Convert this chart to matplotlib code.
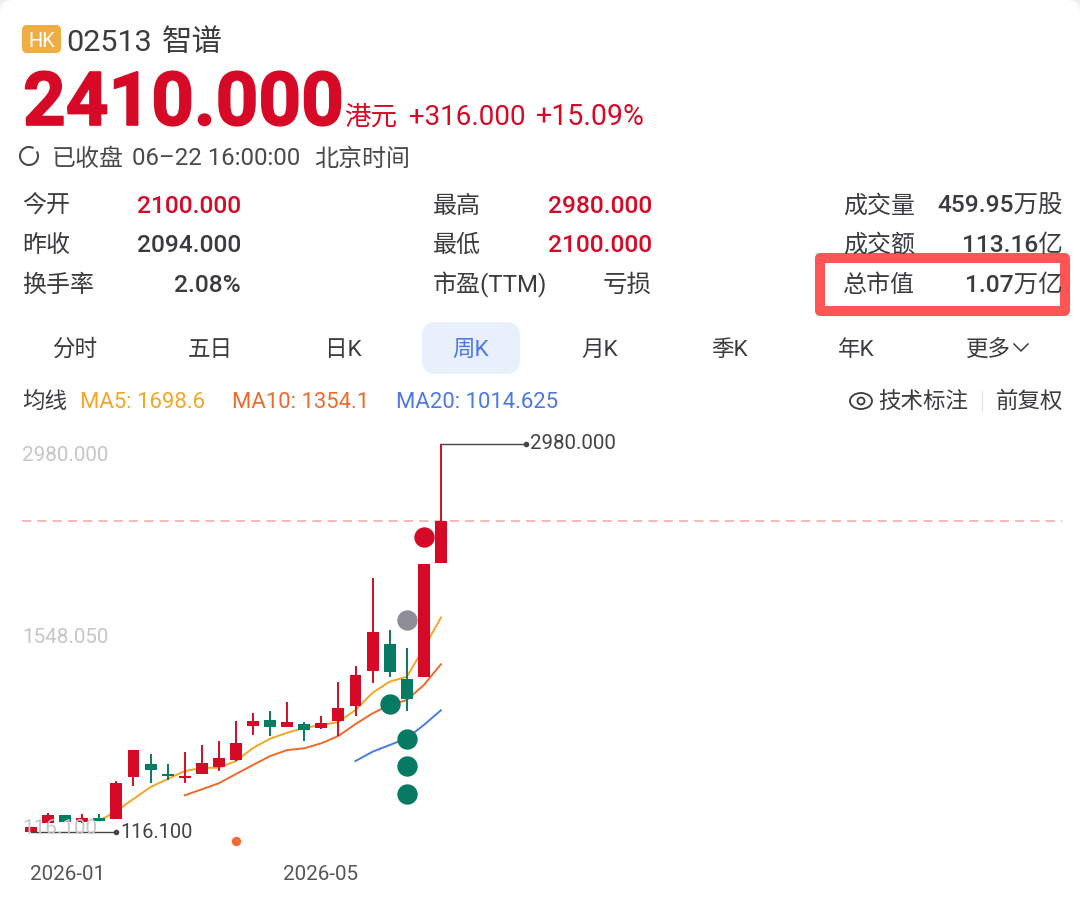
import numpy as np
import matplotlib
matplotlib.use('Agg')
import matplotlib.pyplot as plt
import matplotlib.patheffects as pe
from matplotlib.patches import FancyBboxPatch, Rectangle, Ellipse, Circle, Arc

plt.rcParams['font.family'] = ['Roboto', 'Noto Sans CJK SC']

# weekly candles
opens = [116, 180, 239, 192, 222, 212, 522, 620, 544, 513, 544, 598, 648,
         896, 941, 893, 911, 882, 933, 1048, 1307, 1506, 1245, 1262, 2100]
closes = [153, 244, 192, 222, 200, 480, 721, 574, 530, 527, 625, 662, 775,
          933, 891, 930, 869, 918, 1034, 1277, 1590, 1297, 1098, 2094, 2410]
highs = [153, 259, 244, 247, 247, 493, 723, 694, 620, 707, 761, 786, 935,
         997, 1007, 1076, 930, 972, 1226, 1339, 1991, 1607, 1476, 2094, 2980]
lows = [116, 175, 190, 180, 197, 212, 458, 480, 498, 480, 542, 569, 640,
        834, 825, 893, 786, 880, 825, 975, 1214, 1258, 1009, 1262, 2100]

ma5 = [200, 270, 360, 448, 507, 566, 589, 591, 640, 736, 805, 849, 884, 906,
       928, 1017, 1144, 1226, 1262, 1474, 1698.6]
ma10 = [387, 431, 476, 544, 611, 677, 721, 734, 771, 825, 913, 992, 1054,
        1090, 1201, 1354.1]
ma20 = [640, 709, 758, 808, 906, 1014.625]

dot_idx = [23, 22, 21, 22, 22, 22, 12]
dot_price = [2294, 1681, 1061, 806, 603, 400, 50]
dot_kind = ['red', 'grey', 'green', 'green', 'green', 'green', 'orange']

price_labels = ['2980.000', '1548.050', '116.100']
date_labels = ['2026-01', '2026-05']
tab_labels = ['分时', '五日', '日K', '周K', '月K', '季K', '年K', '更多']
rows_left = [('今开', '2100.000', True), ('昨收', '2094.000', False), ('换手率', '2.08%', False)]
rows_mid = [('最高', '2980.000', True), ('最低', '2100.000', True), ('市盈(TTM)', '亏损', False)]
rows_right = [('成交量', '459.95万股', False), ('成交额', '113.16亿', False), ('总市值', '1.07万亿', False)]

RED = '#d60a26'
GREEN = '#067a62'
DARK = '#3c3c40'
GREY = '#c6c6c8'
BLUE = '#4d78e6'
YELLOW = '#f5a623'
ORANGE = '#ee6a2c'
dot_colors = {'red': RED, 'grey': '#8e8e98', 'green': GREEN, 'orange': '#f26a35'}

fig = plt.figure(figsize=(10.8, 9.07), dpi=100, facecolor='#f2f2f4')

# white card with rounded top corners behind everything
bg = fig.add_axes([0, 0, 1, 1], zorder=-1)
bg.set_xlim(0, 1080)
bg.set_ylim(907, 0)
bg.axis('off')
bg.add_patch(FancyBboxPatch((12, 12), 1056, 950, boxstyle='round,pad=12,rounding_size=14',
                            fc='white', ec='none', clip_on=False))

# price chart: one candle every 17.08 px, 7.381 price units per px
ax = fig.add_axes([0, 0, 1, 1])
ax.set_xlim(-31 / 17.08, (1080 - 31) / 17.08)
ax.set_ylim(2980 - (907 - 444) * 7.381, 2980 + 444 * 7.381)
ax.axis('off')

idx = np.arange(len(opens))
opens = np.array(opens)
closes = np.array(closes)
up = closes >= opens
colors = [RED if u else GREEN for u in up]

ax.axhline(closes[-1], xmin=22 / 1080, xmax=1062 / 1080, color='#f4a6a6', lw=1.1,
           dashes=(6, 4), zorder=1)
ax.plot(idx[4:], ma5, color=YELLOW, lw=1.4, zorder=2)
ax.plot(idx[9:], ma10, color=ORANGE, lw=1.4, zorder=2)
ax.plot(idx[19:], ma20, color=BLUE, lw=1.4, zorder=2)

ax.vlines(idx, lows, highs, colors=colors, lw=1.4, zorder=3)
ax.bar(idx, np.abs(closes - opens), bottom=np.minimum(opens, closes), width=0.7,
       color=colors, zorder=3)

for i, p, k in zip(dot_idx, dot_price, dot_kind):
    ax.scatter(i, p, s=45 if k == 'orange' else 215, color=dot_colors[k], lw=0, zorder=4,
               clip_on=False)

# high / low leaders
ax.plot([idx[-1], idx[-1] + 5], [highs[-1], highs[-1]], color='#444444', lw=1, zorder=5)
ax.scatter(idx[-1] + 5, highs[-1], s=9, color='#444444', zorder=5)
ax.plot([idx[0], idx[0] + 5], [lows[0], lows[0]], color='#444444', lw=1, zorder=5)
ax.scatter(idx[0] + 5, lows[0], s=9, color='#444444', zorder=5)

# everything else is placed in screen pixels
ui = fig.add_axes([0, 0, 1, 1], zorder=5)
ui.set_xlim(0, 1080)
ui.set_ylim(907, 0)
ui.axis('off')
ui.patch.set_alpha(0)


def txt(x, y, s, px, color=DARK, ha='left', **kw):
    return ui.text(x, y, s, fontsize=px * 0.72, color=color, ha=ha, va='baseline', **kw)


# header
ui.add_patch(FancyBboxPatch((25, 28), 33, 22, boxstyle='round,pad=3,rounding_size=5',
                            fc='#f0ac45', ec='none'))
txt(41.5, 47, 'HK', 20, color='white', ha='center')
txt(66, 51, '02513', 30.5)
txt(162, 51, '智谱', 30.5)
big = txt(23, 125, '2410.000', 74.5, color=RED, fontweight='bold')
big.set_path_effects([pe.withStroke(linewidth=1.2, foreground=RED)])
txt(344, 125, '港元', 26.5, color=RED)
txt(409, 125, '+316.000', 27.8, color=RED)
txt(536, 125, '+15.09%', 28.5, color=RED)
ui.add_patch(Arc((29, 156), 18, 18, angle=0, theta1=-30, theta2=300, color='#4a4a4e', lw=1.5))
txt(52, 166, '已收盘', 24, color='#4a4a4e')
txt(132, 165, '06–22 16:00:00', 24, color='#4a4a4e')
txt(314, 166, '北京时间', 24, color='#4a4a4e')

# quote table
row_y = [213, 252, 292]
for rows, x0, x1 in [(rows_left, 22, 241), (rows_mid, 433, 652), (rows_right, 843, 1063)]:
    for (name, val, is_red), y in zip(rows, row_y):
        txt(x0, y, name, 24)
        txt(x1, y, val, 24.5, color=RED if is_red else DARK, ha='right', fontweight='medium')

# highlight box
ui.add_patch(Rectangle((820, 258), 245, 53, fill=False, ec='#ff5555', lw=7.2, joinstyle='round'))

# tabs
ui.add_patch(FancyBboxPatch((434, 334), 74, 28, boxstyle='round,pad=12,rounding_size=14',
                            fc='#e8f1fb', ec='none'))
for s, x in zip(tab_labels, [75, 210, 343, 471, 600, 729, 856, 988]):
    txt(x, 356, s, 22.5, color=BLUE if s == '周K' else DARK, ha='center')
ui.plot([1014, 1021, 1028], [344, 351, 344], color=DARK, lw=1.1)

# moving average legend
txt(22, 408, '均线', 22.5)
txt(80, 408, 'MA5: 1698.6', 22.2, color=YELLOW)
txt(232, 408, 'MA10: 1354.1', 22.2, color=ORANGE)
txt(396, 408, 'MA20: 1014.625', 22.2, color=BLUE)
ui.add_patch(Ellipse((861, 401), 22, 16, fill=False, ec=DARK, lw=1.3))
ui.add_patch(Circle((861, 401), 3.5, fill=False, ec=DARK, lw=1.3))
txt(878, 408, '技术标注', 22.5)
ui.plot([982, 982], [391, 411], color='#e6e6e6', lw=1)
txt(996, 408, '前复权', 22.5)

# axis labels
txt(22, 461, price_labels[0], 20.6, color=GREY)
txt(22, 643, price_labels[1], 20.6, color=GREY)
txt(22, 834, price_labels[2], 20.6, color=GREY)
txt(530, 449, price_labels[0], 20.5, color='#444444')
txt(120, 838, price_labels[2], 20, color='#444444')
txt(30, 880, date_labels[0], 20.6, color='#555555')
txt(283, 880, date_labels[1], 20.6, color='#555555')

fig.savefig('out.png', dpi=100)
